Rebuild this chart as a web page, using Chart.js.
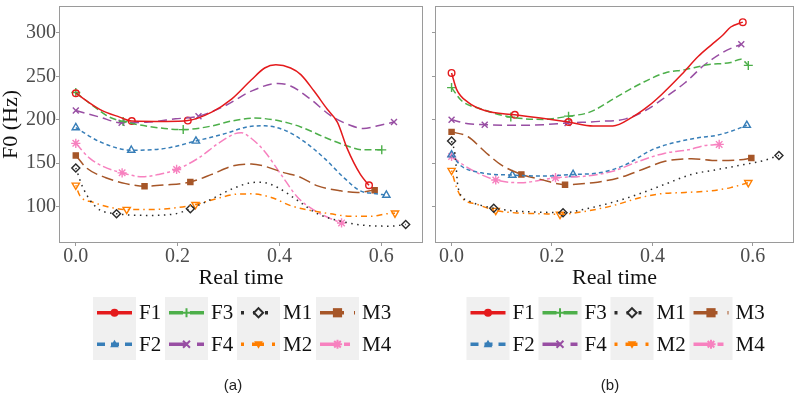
<!DOCTYPE html>
<html><head><meta charset="utf-8">
<script src="https://cdn.jsdelivr.net/npm/chart.js@4/dist/chart.umd.min.js"></script>
<style>
html,body{margin:0;padding:0;background:#fff;width:800px;height:396px;overflow:hidden}
#wrap{position:relative;width:800px;height:396px}
canvas{position:absolute;top:0}
#cA{left:0}
#cB{left:429px}
</style></head><body>
<div id="wrap"><canvas id="cA" width="429" height="396"></canvas><canvas id="cB" width="371" height="396"></canvas></div>
<script>
// ---------- data ----------
const seriesNames = ['F1','F2','F3','F4','M1','M2','M3','M4'];
const xTicks = [0, 0.2, 0.4, 0.6];
const yTicks = [100, 150, 200, 250, 300];
const panelLabels = ['(a)', '(b)'];

// panel (a): [time, F0]
const aF1 = [[0,230.5],[0.047,212],[0.086,203],[0.110,198.5],[0.177,198],[0.22,199],[0.267,208.7],[0.306,223.7],[0.345,246],[0.371,259.6],[0.393,263.3],[0.422,259.6],[0.442,252],[0.468,233],[0.494,212],[0.514,197],[0.533,167],[0.559,137],[0.576,124.5]];
const aF1m = [[0,230.5],[0.110,198.5],[0.22,199],[0.576,124.5]];
const aF2 = [[0,190.9],[0.047,174.7],[0.109,164.9],[0.176,167],[0.236,175.5],[0.293,184],[0.345,192.5],[0.371,193],[0.410,188],[0.449,174.7],[0.488,155.8],[0.527,133],[0.559,118],[0.585,115],[0.61,113.2]];
const aF2m = [[0,190.9],[0.109,164.9],[0.236,175.5],[0.61,113.2]];
const aF3 = [[0,231.3],[0.034,216],[0.066,203],[0.093,198],[0.150,191.7],[0.211,188.6],[0.267,192.8],[0.306,198.5],[0.351,201.9],[0.397,199],[0.442,191.7],[0.488,180],[0.527,171],[0.565,165.3],[0.601,165.3]];
const aF3m = [[0,231.3],[0.093,198],[0.211,188.6],[0.601,165.3]];
const aF4 = [[0,210.6],[0.047,203],[0.090,196.5],[0.144,197.3],[0.196,201],[0.241,204],[0.293,216],[0.345,233],[0.397,241.8],[0.422,238.8],[0.461,223.7],[0.5,205],[0.539,193.6],[0.565,189.8],[0.591,192.8],[0.625,197.3]];
const aF4m = [[0,210.6],[0.090,196.5],[0.241,204],[0.625,197.3]];
const aM1 = [[0,144.5],[0.014,121.8],[0.040,99.2],[0.080,91.7],[0.144,89.8],[0.196,91.7],[0.225,97.4],[0.267,108.7],[0.306,120],[0.345,127.5],[0.365,128],[0.397,121.8],[0.436,106.8],[0.475,91.7],[0.527,82.2],[0.565,78.5],[0.617,77.4],[0.648,79.3]];
const aM1m = [[0,144.5],[0.080,91.7],[0.225,97.4],[0.648,79.3]];
const aM2 = [[0,124.5],[0.008,112.5],[0.034,104.9],[0.066,99.2],[0.10,96.6],[0.144,96.6],[0.196,98.5],[0.235,102.3],[0.274,108.7],[0.319,114.4],[0.345,114.6],[0.384,110.5],[0.422,101],[0.461,95.5],[0.5,91.7],[0.539,88.7],[0.578,88.7],[0.611,91.7],[0.627,92.4]];
const aM2m = [[0,124.5],[0.10,96.6],[0.235,102.3],[0.627,92.4]];
const aM3 = [[0,158.9],[0.021,144.5],[0.059,133.2],[0.098,126.4],[0.135,123.4],[0.176,124.9],[0.225,128.3],[0.267,137],[0.306,146.4],[0.345,149],[0.371,146.4],[0.410,138.8],[0.436,135],[0.475,123.8],[0.520,118.1],[0.553,116.2],[0.587,118.9]];
const aM3m = [[0,158.9],[0.135,123.4],[0.225,128.3],[0.587,118.9]];
const aM4 = [[0,172.8],[0.027,155.8],[0.053,146.4],[0.091,138.8],[0.131,134.3],[0.163,137],[0.198,142.7],[0.241,155.8],[0.280,172.8],[0.313,184],[0.325,185],[0.345,178.4],[0.371,163.4],[0.403,137],[0.436,110.5],[0.469,95.5],[0.501,86],[0.522,81.1]];
const aM4m = [[0,172.8],[0.091,138.8],[0.198,142.7],[0.522,81.1]];

// panel (b)
const bF1 = [[0,253.9],[0.01,235],[0.033,220],[0.066,210.6],[0.126,205.6],[0.177,201.9],[0.233,197.3],[0.282,192.8],[0.321,192.8],[0.360,203],[0.393,216.2],[0.419,229.4],[0.458,252],[0.491,272.8],[0.517,286],[0.540,297.3],[0.556,306.8],[0.580,312.4]];
const bF1m = [[0,253.9],[0.126,205.6],[0.233,197.3],[0.580,312.4]];
const bF2 = [[0,159.6],[0.02,146.4],[0.059,138.8],[0.121,136.2],[0.183,135.1],[0.242,137],[0.294,138.8],[0.347,148.3],[0.399,165.3],[0.438,172.8],[0.491,179.2],[0.530,182.3],[0.563,188],[0.588,193.6]];
const bF2m = [[0,159.6],[0.121,136.2],[0.242,137],[0.588,193.6]];
const bF3 = [[0,237],[0.02,221.9],[0.059,212.4],[0.118,203],[0.183,200.4],[0.233,204.1],[0.275,208.7],[0.327,225.6],[0.380,242.6],[0.425,253.9],[0.465,257.7],[0.510,263.3],[0.556,266],[0.576,269.8],[0.591,262.6]];
const bF3m = [[0,237],[0.118,203],[0.233,204.1],[0.591,262.6]];
const bF4 = [[0,200],[0.033,195.4],[0.066,194.3],[0.131,193.6],[0.183,194.3],[0.231,196.2],[0.294,198.1],[0.347,201],[0.386,210.6],[0.425,225.6],[0.465,242.6],[0.504,263.3],[0.543,278.5],[0.577,287]];
const bF4m = [[0,200],[0.066,194.3],[0.231,196.2],[0.577,287]];
const bM1 = [[0,175.5],[0.007,159.6],[0.013,121.8],[0.033,106.8],[0.084,98.1],[0.131,94.7],[0.177,93.5],[0.222,92.9],[0.268,97.4],[0.321,104.9],[0.373,114.4],[0.425,125.7],[0.478,137],[0.530,142.7],[0.582,148.3],[0.621,152.9],[0.652,158.9]];
const bM1m = [[0,175.5],[0.084,98.1],[0.222,92.9],[0.652,158.9]];
const bM2 = [[0,141.5],[0.01,121.8],[0.02,110.5],[0.052,102.3],[0.088,95.5],[0.137,92.4],[0.177,91.7],[0.216,91],[0.268,94.7],[0.321,101],[0.373,109.8],[0.412,114.4],[0.465,116.2],[0.517,118.1],[0.556,121.8],[0.591,127.5]];
const bM2m = [[0,141.5],[0.088,95.5],[0.216,91],[0.591,127.5]];
const bM3 = [[0,186],[0.033,180.4],[0.066,163.4],[0.098,148.3],[0.139,137],[0.177,131.3],[0.226,125.2],[0.282,127.5],[0.334,133.2],[0.380,142.7],[0.425,152.1],[0.478,155.1],[0.530,152.9],[0.576,154],[0.597,155.8]];
const bM3m = [[0,186],[0.139,137],[0.226,125.2],[0.597,155.8]];
const bM4 = [[0,157.7],[0.033,144.5],[0.088,130.6],[0.137,127.5],[0.207,133.2],[0.268,135.1],[0.321,140.7],[0.373,152.1],[0.425,161.5],[0.471,165.3],[0.504,170.2],[0.533,171.6]];
const bM4m = [[0,157.7],[0.088,130.6],[0.207,133.2],[0.533,171.6]];

const linesA = {F1:aF1,F2:aF2,F3:aF3,F4:aF4,M1:aM1,M2:aM2,M3:aM3,M4:aM4};
const marksA = {F1:aF1m,F2:aF2m,F3:aF3m,F4:aF4m,M1:aM1m,M2:aM2m,M3:aM3m,M4:aM4m};
const linesB = {F1:bF1,F2:bF2,F3:bF3,F4:bF4,M1:bM1,M2:bM2,M3:bM3,M4:bM4};
const marksB = {F1:bF1m,F2:bF2m,F3:bF3m,F4:bF4m,M1:bM1m,M2:bM2m,M3:bM3m,M4:bM4m};

// ---------- styles ----------
const styles = {
  F1:{color:'#E41A1C', dash:[], ps:'circle', r:3.3, fill:false},
  F2:{color:'#377EB8', dash:[4,3], ps:'triangle', r:4.2, fill:false},
  F3:{color:'#4DAF4A', dash:[7,3.5], ps:'cross', r:4.5, fill:false},
  F4:{color:'#984EA3', dash:[9,5], ps:'crossRot', r:4.2, fill:false},
  M1:{color:'#2b2b2b', dash:[1.5,4.5], ps:'rectRot', r:4, fill:false},
  M2:{color:'#FF7F00', dash:[1.5,4,6,4], ps:'triangle', rot:180, r:4.2, fill:false},
  M3:{color:'#A65628', dash:[12,5], ps:'rect', r:3.6, fill:true},
  M4:{color:'#F781BF', dash:[9,3,3,3], ps:'star', r:4.6, fill:false}
};
const SERIF = '"Liberation Serif", "Times New Roman", serif';
const FRAME = '#9a9a9a';

function drawKeyMarker(ctx, s, x, y) {
  const r = 4.6;
  ctx.save();
  ctx.translate(x, y);
  ctx.strokeStyle = s.color; ctx.fillStyle = s.color; ctx.lineWidth = 2; ctx.setLineDash([]);
  ctx.beginPath();
  switch (s.ps) {
    case 'circle': ctx.arc(0,0,r-0.6,0,Math.PI*2); ctx.fill(); break;
    case 'triangle':
      if (s.rot) ctx.rotate(Math.PI);
      ctx.moveTo(0,-r); ctx.lineTo(r*0.95,r*0.65); ctx.lineTo(-r*0.95,r*0.65); ctx.closePath(); ctx.fill(); break;
    case 'cross': ctx.moveTo(-r,0); ctx.lineTo(r,0); ctx.moveTo(0,-r); ctx.lineTo(0,r); ctx.stroke(); break;
    case 'crossRot': { const d=r*0.75; ctx.moveTo(-d,-d); ctx.lineTo(d,d); ctx.moveTo(d,-d); ctx.lineTo(-d,d); ctx.stroke(); break; }
    case 'rectRot': ctx.moveTo(0,-r); ctx.lineTo(r,0); ctx.lineTo(0,r); ctx.lineTo(-r,0); ctx.closePath();
      ctx.fillStyle='#F0F0F0'; ctx.fill(); ctx.stroke(); break;
    case 'rect': ctx.rect(-r,-r,2*r,2*r); ctx.fill(); break;
    case 'star': { const d=r*0.72; ctx.moveTo(-r,0); ctx.lineTo(r,0); ctx.moveTo(0,-r); ctx.lineTo(0,r);
      ctx.moveTo(-d,-d); ctx.lineTo(d,d); ctx.moveTo(d,-d); ctx.lineTo(-d,d); ctx.stroke(); break; }
  }
  ctx.restore();
}

const framePlugin = {
  id:'frame',
  afterDatasetsDraw(chart) {
    const {ctx, chartArea:a} = chart;
    ctx.save();
    ctx.strokeStyle = FRAME; ctx.lineWidth = 1; ctx.setLineDash([]);
    ctx.strokeRect(Math.round(a.left)+0.5, Math.round(a.top)+0.5, Math.round(a.right-a.left)-1, Math.round(a.bottom-a.top)-1);
    ctx.restore();
  }
};

function legendPlugin(label, labelX) {
  return {
    id:'ggLegend',
    afterDraw(chart) {
      const {ctx, chartArea:a} = chart;
      const cx = (a.left + a.right) / 2;
      const cols = [['F1','F2'],['F3','F4'],['M1','M2'],['M3','M4']];
      const colOff = [-148,-76,-4,75];
      const top = 297, keyW = 43, keyH = 31.5;
      ctx.save();
      cols.forEach((col, ci) => {
        const x0 = cx + colOff[ci];
        ctx.fillStyle = '#F0F0F0';
        ctx.fillRect(x0, top, keyW, keyH*2);
        col.forEach((n, ri) => {
          const s = styles[n];
          const yc = top + keyH/2 + ri*keyH;
          ctx.save();
          ctx.strokeStyle = s.color; ctx.lineWidth = 3.3;
          ctx.setLineDash(s.dash.map(d => d*2));
          ctx.beginPath(); ctx.moveTo(x0+4, yc); ctx.lineTo(x0+keyW-4, yc); ctx.stroke();
          ctx.restore();
          drawKeyMarker(ctx, s, x0+keyW/2, yc);
          ctx.fillStyle = '#111'; ctx.font = '21px ' + SERIF;
          ctx.textBaseline = 'middle'; ctx.textAlign = 'left';
          ctx.fillText(n, x0 + keyW + 3, yc + 1);
        });
      });
      ctx.fillStyle = '#222'; ctx.font = '15px "Liberation Sans", Arial, sans-serif';
      ctx.textAlign = 'center'; ctx.textBaseline = 'middle';
      ctx.fillText(label, labelX, 386);
      ctx.restore();
    }
  };
}

function noPad(s) { s.paddingTop = 0; s.paddingBottom = 0; s.paddingLeft = 0; s.paddingRight = 0; }

function makeChart(id, lines, marks, isA, label, labelX) {
  const datasets = [];
  seriesNames.forEach(n => {
    const s = styles[n];
    datasets.push({label:n, data:lines[n].map(p => ({x:p[0], y:p[1]})), showLine:true,
      borderColor:s.color, borderWidth:1.5, borderDash:s.dash, pointRadius:0, pointHoverRadius:0,
      cubicInterpolationMode:'monotone', fill:false});
  });
  seriesNames.forEach(n => {
    const s = styles[n];
    datasets.push({label:n+' points', data:marks[n].map(p => ({x:p[0], y:p[1]})), showLine:false,
      pointStyle:s.ps, rotation:s.rot||0, pointRotation:s.rot||0, pointRadius:s.r, pointHoverRadius:s.r,
      pointBorderColor:s.color, pointBackgroundColor:s.fill ? s.color : 'rgba(0,0,0,0)', pointBorderWidth:1.4});
  });
  return new Chart(document.getElementById(id), {
    type:'scatter',
    data:{datasets},
    options:{
      responsive:false, animation:false, devicePixelRatio:1,
      events:[],
      layout:{padding:{top:2, right:isA?4:1, bottom:106.5, left:0}},
      plugins:{legend:{display:false}, tooltip:{enabled:false}},
      scales:{
        x:{type:'linear', min:-0.033, max:0.682,
          afterBuildTicks:s => { s.ticks = xTicks.map(v => ({value:v})); },
          afterFit:s => { s.height = 46.5; noPad(s); },
          grid:{display:true, drawOnChartArea:false, drawTicks:true, tickLength:3, color:FRAME},
          border:{display:false},
          ticks:{font:{family:SERIF, size:20, lineHeight:1}, color:'#4D4D4D', padding:1,
            maxRotation:0, autoSkip:false, callback:v => Number(v).toFixed(1)},
          title:{display:true, text:'Real time', font:{family:SERIF, size:22, lineHeight:1}, color:'#111', padding:0}
        },
        y:{type:'linear', min:58, max:331,
          afterBuildTicks:s => { s.ticks = yTicks.map(v => ({value:v})); },
          afterFit:s => { s.width = isA ? 59 : 4; noPad(s); },
          grid:{display:true, drawOnChartArea:false, drawTicks:true, tickLength:3, color:FRAME},
          border:{display:false},
          ticks:{display:isA, font:{family:SERIF, size:20, lineHeight:1}, color:'#4D4D4D', padding:0,
            callback:v => String(v)},
          title:{display:isA, text:'F0 (Hz)', font:{family:SERIF, size:22, lineHeight:1}, color:'#111', padding:0}
        }
      }
    },
    plugins:[framePlugin, legendPlugin(label, labelX)]
  });
}

makeChart('cA', linesA, marksA, true, panelLabels[0], 233);
makeChart('cB', linesB, marksB, false, panelLabels[1], 181);
</script>
</body></html>
